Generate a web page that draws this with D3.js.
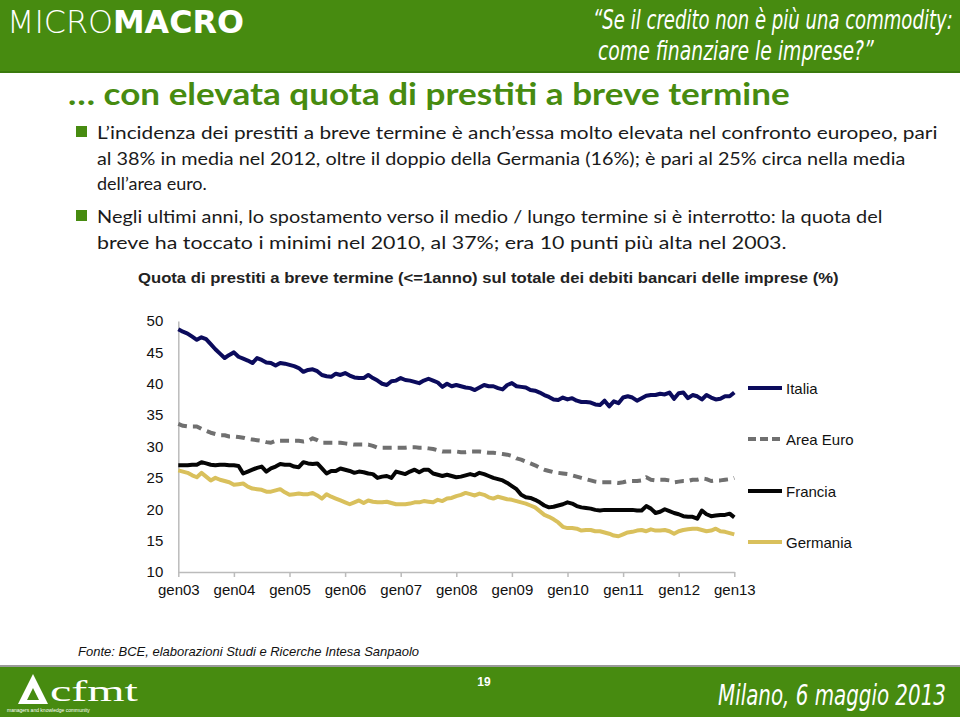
<!DOCTYPE html>
<html><head><meta charset="utf-8">
<script src="https://cdn.jsdelivr.net/npm/d3@7"></script>
<style>html,body{margin:0;padding:0;background:#fff;}svg{display:block;}</style>
</head><body>
<script>
const yearLabels = ["gen03","gen04","gen05","gen06","gen07","gen08","gen09","gen10","gen11","gen12","gen13"];
const yTicks = [10,15,20,25,30,35,40,45,50];
const seriesNames = ["Italia","Area Euro","Francia","Germania"];
const italia = [48.7,48.3,48.0,47.5,47.0,47.4,47.1,46.3,45.5,44.8,44.1,44.6,45.0,44.3,44.0,43.7,43.3,44.1,43.8,43.4,43.3,42.9,43.3,43.2,43.0,42.8,42.5,41.9,42.2,42.3,42.0,41.4,41.2,41.1,41.6,41.4,41.7,41.3,41.0,40.9,40.9,41.4,40.9,40.5,40.0,39.8,40.4,40.5,40.9,40.6,40.5,40.3,40.1,40.5,40.8,40.5,40.2,39.5,40.0,39.6,39.8,39.6,39.4,39.3,39.0,39.4,39.8,39.6,39.6,39.3,39.1,39.8,40.1,39.6,39.5,39.4,39.0,38.9,38.6,38.2,37.9,37.5,37.4,37.8,37.5,37.7,37.3,37.1,37.1,37.0,36.7,36.6,37.3,36.4,37.2,36.9,37.8,38.0,37.8,37.3,37.7,38.1,38.2,38.2,38.4,38.3,38.6,37.6,38.5,38.6,37.7,38.2,38.0,37.5,38.2,37.8,37.5,37.6,38.0,38.0,38.6];
const areaEuro = [33.6,33.3,33.2,33.2,33.2,32.8,32.5,32.2,32.0,31.8,31.8,31.6,31.6,31.5,31.4,31.2,31.1,31.0,30.9,30.7,30.6,30.9,30.9,30.9,30.9,30.9,30.9,30.8,30.9,31.3,31.0,30.6,30.6,30.6,30.6,30.6,30.5,30.4,30.3,30.3,30.3,30.3,30.1,29.8,29.8,29.8,29.8,29.8,29.8,29.8,29.9,29.9,29.8,29.8,29.7,29.6,29.4,29.2,29.2,29.2,29.2,29.1,29.1,29.2,29.2,29.2,29.1,29.0,29.0,28.9,28.8,28.7,28.5,28.1,27.9,27.6,27.3,27.0,26.6,26.3,26.1,25.9,25.8,25.7,25.6,25.4,25.2,25.0,24.8,24.6,24.4,24.3,24.3,24.3,24.3,24.2,24.3,24.5,24.5,24.5,24.6,25.1,24.7,24.6,24.7,24.7,24.6,24.3,24.4,24.5,24.5,24.7,24.7,24.9,24.8,24.5,24.6,24.6,24.7,24.8,25.0];
const francia = [27.0,27.0,27.0,27.1,27.1,27.5,27.3,27.1,27.0,27.1,27.1,27.0,27.0,26.9,25.7,26.0,26.3,26.6,26.8,26.0,26.5,26.8,27.2,27.1,27.1,26.8,26.7,27.5,27.3,27.2,27.3,26.5,25.7,26.1,26.1,26.5,26.3,26.1,25.8,26.0,25.9,25.7,25.6,25.0,25.2,25.3,25.0,26.0,25.8,25.6,26.0,26.3,25.9,26.3,26.3,25.7,25.5,25.3,25.5,25.3,25.1,25.2,25.4,25.6,25.4,25.8,25.6,25.3,25.0,24.8,24.6,24.2,23.7,23.2,22.3,21.9,21.8,21.5,21.1,20.6,20.3,20.4,20.6,20.8,21.1,20.9,20.5,20.3,20.2,20.1,19.9,19.8,19.9,19.9,19.9,19.9,19.9,19.9,19.9,19.8,19.8,20.5,20.1,19.4,19.6,20.0,19.7,19.4,19.2,18.9,18.8,18.8,18.5,19.8,19.2,18.9,19.0,19.1,19.1,19.3,18.7];
const germania = [26.2,26.0,25.8,25.4,25.1,25.8,25.2,24.6,25.0,24.7,24.5,24.3,23.9,24.0,24.1,23.6,23.3,23.2,23.1,22.8,22.8,23.0,23.2,22.7,22.3,22.4,22.5,22.4,22.4,22.6,22.2,21.7,22.4,22.0,21.7,21.4,21.1,20.8,21.1,21.4,21.0,21.4,21.2,21.1,21.1,21.2,21.0,20.8,20.8,20.8,20.9,21.1,21.1,21.3,21.2,21.1,21.5,21.3,21.7,21.8,22.1,22.3,22.6,22.4,22.2,22.5,22.3,21.9,21.7,22.0,21.8,21.6,21.5,21.3,21.1,20.9,20.6,20.3,19.7,19.1,18.8,18.4,17.9,17.2,17.0,17.0,16.9,16.6,16.7,16.7,16.5,16.5,16.3,16.1,15.8,15.7,16.0,16.3,16.4,16.6,16.7,16.5,16.8,16.6,16.6,16.7,16.5,16.1,16.5,16.7,16.8,16.9,16.9,16.7,16.5,16.6,16.9,16.5,16.4,16.2,16.0];

const W = 960, H = 717;
const svg = d3.select("body").append("svg").attr("width", W).attr("height", H);
const green = "#478b10";

// place a text at (x,y) and scale it horizontally to a target width
function fitText(parent, x, y, width, txt, attrs) {
  const g = parent.append("g");
  const t = g.append("text").attr("x",0).attr("y",0).text(txt);
  Object.entries(attrs).forEach(([k,v]) => t.attr(k,v));
  const nat = t.node().getComputedTextLength();
  const s = width / nat;
  g.attr("transform", `translate(${x},${y}) scale(${s},1)`);
  return t;
}

// Header
svg.append("rect").attr("x",0).attr("y",0).attr("width",W).attr("height",72).attr("fill",green);
svg.append("rect").attr("x",0).attr("y",71).attr("width",W).attr("height",2).attr("fill","#3a7a0c");
{
  const g = svg.append("g");
  const logo = g.append("text").attr("x",0).attr("y",0).attr("fill","#fff")
    .attr("font-family","'DejaVu Sans',sans-serif").attr("font-size",32);
  logo.append("tspan").attr("font-weight",200).text("MICRO");
  logo.append("tspan").attr("font-weight",700).text("MACRO");
  const nat = logo.node().getComputedTextLength();
  g.attr("transform",`translate(7,33) scale(${237/nat},1)`);
}
const hdrFont = "'DejaVu Sans Condensed','DejaVu Sans',sans-serif";
fitText(svg, 593, 29, 360, "“Se il credito non è più una commodity:",
  {"fill":"#fff","font-family":hdrFont,"font-style":"italic","font-size":26});
fitText(svg, 598, 60, 276, "come finanziare le imprese?”",
  {"fill":"#fff","font-family":hdrFont,"font-style":"italic","font-size":26});

// Title
fitText(svg, 68, 105, 722, "… con elevata quota di prestiti a breve termine",
  {"fill":green,"font-family":"Lato,'Open Sans',sans-serif","font-weight":700,"font-size":31});

// Bullets
const bodyFont = "Lato,'Open Sans',sans-serif";
const lines = [
  {t:"L’incidenza dei prestiti a breve termine è anch’essa molto elevata nel confronto europeo, pari", y:139, w:841, b:true},
  {t:"al 38% in media nel 2012, oltre il doppio della Germania (16%); è pari al 25% circa nella media", y:165, w:809},
  {t:"dell’area euro.", y:190, w:null},
  {t:"Negli ultimi anni, lo spostamento verso il medio / lungo termine si è interrotto: la quota del", y:223, w:786, b:true},
  {t:"breve ha toccato i minimi nel 2010, al 37%; era 10 punti più alta nel 2003.", y:249, w:690}
];
lines.forEach(l => {
  if (l.b) svg.append("rect").attr("x",76).attr("y",l.y-13).attr("width",11).attr("height",11).attr("fill",green);
  const attrs = {"fill":"#1a1a1a","font-family":bodyFont,"font-size":18};
  if (l.w) fitText(svg, 97, l.y, l.w, l.t, attrs);
  else {
    const t = svg.append("text").attr("x",97).attr("y",l.y).text(l.t);
    Object.entries(attrs).forEach(([k,v]) => t.attr(k,v));
  }
});

// Chart title
const arial = "'Liberation Sans',Arial,sans-serif";
fitText(svg, 138, 283, 701, "Quota di prestiti a breve termine (<=1anno) sul totale dei debiti bancari delle imprese (%)",
  {"fill":"#222","font-family":arial,"font-weight":700,"font-size":15});

// Scales
const x = d3.scaleLinear().domain([0,120]).range([178.3,734.3]);
const y = d3.scaleLinear().domain([10,50]).range([572,321]);

// Axes
const gy = svg.append("g").attr("transform","translate(178.3,0)")
  .call(d3.axisLeft(y).tickValues(yTicks).tickSize(0).tickPadding(15));
gy.select(".domain").attr("stroke","#bbb").attr("stroke-width",1.5);
gy.selectAll("text").attr("font-family",arial).attr("font-size",15).attr("fill","#111");

const gx = svg.append("g").attr("transform","translate(0,572)")
  .call(d3.axisBottom(x).tickValues(d3.range(0,121,12)).tickFormat((d,i)=>yearLabels[i]).tickSize(5).tickSizeOuter(0).tickPadding(7));
gx.select(".domain").attr("stroke","#bbb").attr("stroke-width",1.5);
gx.selectAll(".tick line").attr("stroke","#bbb").attr("stroke-width",1.5);
gx.selectAll("text").attr("font-family",arial).attr("font-size",15).attr("fill","#111");

// Lines
const styles = [
  {data:italia, color:"#0b0b5c", dash:null},
  {data:areaEuro, color:"#707070", dash:"9,6"},
  {data:francia, color:"#050505", dash:null},
  {data:germania, color:"#d9c05c", dash:null}
];
const line = d3.line().x((d,i)=>x(i)).y(d=>y(d));
styles.slice().reverse().forEach(s => {
  svg.append("path").datum(s.data).attr("d",line).attr("fill","none")
    .attr("stroke",s.color).attr("stroke-width",4).attr("stroke-linejoin","round")
    .attr("stroke-dasharray",s.dash);
});

// Legend
const legY = [388,439,491,542];
seriesNames.forEach((n,i) => {
  svg.append("line").attr("x1",748).attr("x2",782).attr("y1",legY[i]).attr("y2",legY[i])
    .attr("stroke",styles[i].color).attr("stroke-width",4).attr("stroke-dasharray",styles[i].dash ? "8,4" : null);
  svg.append("text").attr("x",786).attr("y",legY[i]+6).attr("font-family",arial).attr("font-size",15)
    .attr("fill","#111").text(n);
});

// Source
svg.append("text").attr("x",78).attr("y",656).attr("font-family",arial).attr("font-style","italic")
  .attr("font-size",13).attr("fill","#111").text("Fonte: BCE, elaborazioni Studi e Ricerche Intesa Sanpaolo");

// Footer
svg.append("rect").attr("x",0).attr("y",665).attr("width",W).attr("height",2).attr("fill","#9a9a9a");
svg.append("rect").attr("x",0).attr("y",667).attr("width",W).attr("height",50).attr("fill",green);
svg.append("text").attr("x",484).attr("y",686).attr("text-anchor","middle").attr("font-family",arial)
  .attr("font-size",12).attr("font-weight",700).attr("fill","#fff").text("19");
fitText(svg, 718, 705, 228, "Milano, 6 maggio 2013",
  {"fill":"#fff","font-family":hdrFont,"font-style":"italic","font-size":29});
// cfmt logo
svg.append("path").attr("d","M18,704 L33,674 L48,704 Z M27,700 L33,688 L39,700 Z").attr("fill","#fff").attr("fill-rule","evenodd");
fitText(svg, 50, 701, 88, "cfmt", {"fill":"#fff","font-family":"'Liberation Serif',serif","font-size":30});
svg.append("text").attr("x",7).attr("y",712).attr("fill","#fff").attr("font-family",arial)
  .attr("font-size",5).text("managers   and knowledge community");
</script>
</body></html>
